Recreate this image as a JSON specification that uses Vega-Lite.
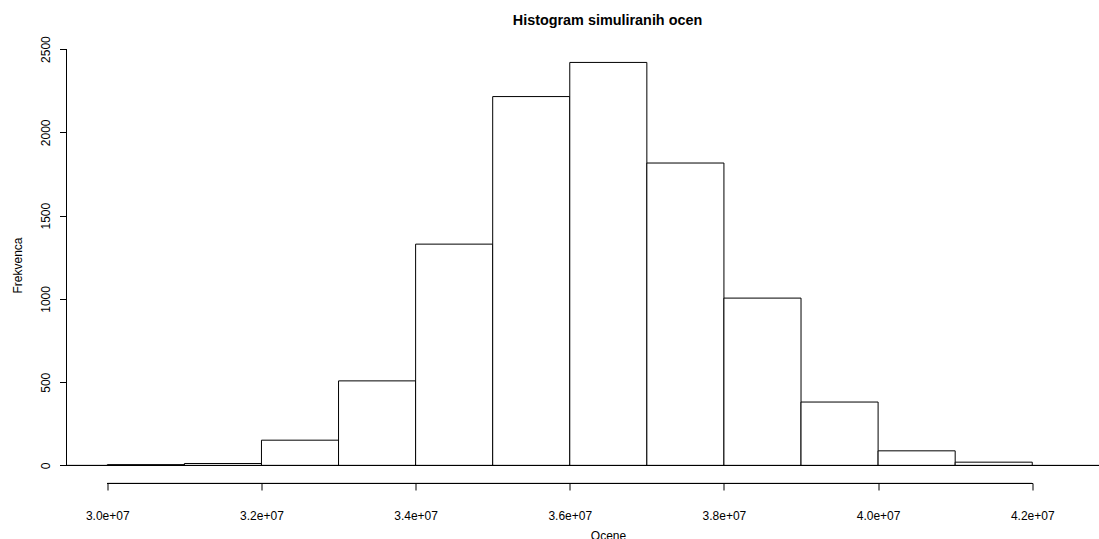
{
  "$schema": "https://vega.github.io/schema/vega-lite/v6.json",
  "autosize": {"type": "none"},
  "padding": {"left": 66.5, "top": 46, "right": 0, "bottom": 56},
  "width": 1032.5,
  "height": 437,
  "background": "white",
  "config": {
    "view": {"stroke": null},
    "font": "Liberation Sans"
  },
  "title": {
    "text": "Histogram simuliranih ocen",
    "font": "Liberation Sans",
    "fontSize": 14.4,
    "fontWeight": "bold",
    "color": "#000000",
    "anchor": "middle",
    "frame": "group",
    "dx": 24.75,
    "offset": 7
  },
  "data": {
    "values": [
      {"bin_start": 30000000, "bin_end": 31000000, "count": 5},
      {"bin_start": 31000000, "bin_end": 32000000, "count": 12},
      {"bin_start": 32000000, "bin_end": 33000000, "count": 152},
      {"bin_start": 33000000, "bin_end": 34000000, "count": 508},
      {"bin_start": 34000000, "bin_end": 35000000, "count": 1329},
      {"bin_start": 35000000, "bin_end": 36000000, "count": 2215},
      {"bin_start": 36000000, "bin_end": 37000000, "count": 2420},
      {"bin_start": 37000000, "bin_end": 38000000, "count": 1816},
      {"bin_start": 38000000, "bin_end": 39000000, "count": 1005},
      {"bin_start": 39000000, "bin_end": 40000000, "count": 381},
      {"bin_start": 40000000, "bin_end": 41000000, "count": 88},
      {"bin_start": 41000000, "bin_end": 42000000, "count": 20}
    ]
  },
  "layer": [
    {
      "mark": {"type": "rect", "fill": "white", "stroke": "#000000", "strokeWidth": 1},
      "encoding": {
        "x": {
          "field": "bin_start",
          "type": "quantitative",
          "scale": {"domain": [29470700, 42865900], "nice": false, "zero": false},
          "axis": {
            "values": [30000000, 32000000, 34000000, 36000000, 38000000, 40000000, 42000000],
            "labelExpr": "format(datum.value / 10000000, '.1f') + 'e+07'",
            "grid": false,
            "domain": false,
            "ticks": true,
            "tickSize": 7,
            "tickColor": "#000000",
            "tickWidth": 1,
            "labelFont": "Liberation Sans",
            "labelFontSize": 12,
            "labelColor": "#000000",
            "labelBaseline": "top",
            "labelPadding": 20,
            "labelFlush": false,
            "labelOverlap": false,
            "title": "Ocene",
            "titleFont": "Liberation Sans",
            "titleFontSize": 12,
            "titleFontWeight": "normal",
            "titleColor": "#000000",
            "titleX": 541.5,
            "titleY": 47,
            "titleBaseline": "top",
            "titleAlign": "center"
          }
        },
        "x2": {"field": "bin_end"},
        "y": {
          "field": "count",
          "type": "quantitative",
          "scale": {"domain": [-105.1, 2518.6], "nice": false, "zero": false},
          "axis": {
            "values": [0, 500, 1000, 1500, 2000, 2500],
            "format": "d",
            "grid": false,
            "domain": false,
            "ticks": true,
            "tickSize": 7,
            "tickColor": "#000000",
            "tickWidth": 1,
            "labelFont": "Liberation Sans",
            "labelFontSize": 12,
            "labelColor": "#000000",
            "labelAngle": 270,
            "labelAlign": "center",
            "labelBaseline": "alphabetic",
            "labelPadding": 10,
            "labelOverlap": false,
            "title": "Frekvenca",
            "titleFont": "Liberation Sans",
            "titleFontSize": 12,
            "titleFontWeight": "normal",
            "titleColor": "#000000",
            "titleAngle": 270,
            "titleX": -49.5,
            "titleY": 219,
            "titleBaseline": "middle",
            "titleAlign": "center"
          }
        },
        "y2": {"datum": 0}
      }
    },
    {
      "mark": {"type": "rule", "color": "#000000", "strokeWidth": 1},
      "encoding": {"y": {"datum": 0}}
    },
    {
      "mark": {"type": "rule", "color": "#000000", "strokeWidth": 1},
      "encoding": {
        "x": {"datum": 29470700},
        "y": {"datum": 0},
        "y2": {"datum": 2500}
      }
    },
    {
      "mark": {"type": "rule", "color": "#000000", "strokeWidth": 1},
      "encoding": {
        "y": {"datum": -108.1},
        "x": {"datum": 30000000},
        "x2": {"datum": 42000000}
      }
    }
  ]
}
